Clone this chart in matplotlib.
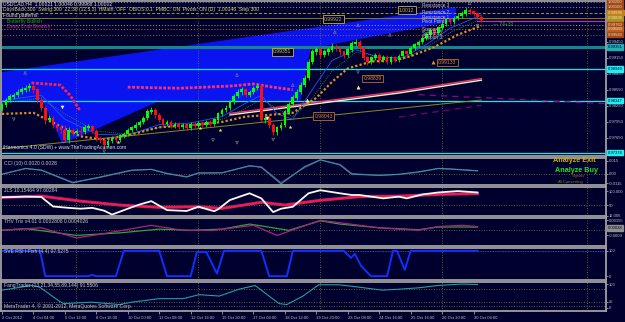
import matplotlib
matplotlib.use("Agg")
import matplotlib.pyplot as plt

plt.rcParams['font.family'] = ['Liberation Sans', 'DejaVu Sans']

NAVY = '#00002e'
GRID = '#7a7a30'
GRAY = '#a0a0a0'
FS = 3.6
FSR = 3.0

# ---- USDCAD H4 candles
opens = [0.9820, 0.9827, 0.9836, 0.9842, 0.9845, 0.9851, 0.9855, 0.9858, 0.9862, 0.9855,
         0.9836, 0.9821, 0.9799, 0.9802, 0.9789, 0.9784, 0.9780, 0.9761, 0.9780, 0.9774,
         0.9778, 0.9776, 0.9784, 0.9786, 0.9778, 0.9765, 0.9761, 0.9752, 0.9759, 0.9765,
         0.9761, 0.9769, 0.9772, 0.9780, 0.9784, 0.9789, 0.9795, 0.9802, 0.9814, 0.9817,
         0.9808, 0.9799, 0.9791, 0.9795, 0.9787, 0.9791, 0.9786, 0.9789, 0.9784, 0.9791,
         0.9787, 0.9793, 0.9789, 0.9795, 0.9791, 0.9799, 0.9810, 0.9817, 0.9821, 0.9832,
         0.9843, 0.9851, 0.9855, 0.9845, 0.9851, 0.9858, 0.9862, 0.9799, 0.9802, 0.9789,
         0.9776, 0.9784, 0.9789, 0.9814, 0.9828, 0.9840, 0.9851, 0.9864, 0.9877, 0.9907,
         0.9926, 0.9930, 0.9920, 0.9926, 0.9930, 0.9937, 0.9933, 0.9926, 0.9920, 0.9930,
         0.9941, 0.9944, 0.9933, 0.9915, 0.9907, 0.9915, 0.9920, 0.9911, 0.9916, 0.9907,
         0.9915, 0.9911, 0.9918, 0.9926, 0.9922, 0.9933, 0.9939, 0.9944, 0.9952, 0.9958,
         0.9967, 0.9961, 0.9971, 0.9978, 0.9986, 0.9982, 0.9989, 0.9993, 0.9997, 1.0004,
         1.0001, 0.9997, 0.9991]
closes = [0.9827, 0.9836, 0.9842, 0.9845, 0.9851, 0.9855, 0.9858, 0.9862, 0.9855, 0.9836,
          0.9821, 0.9799, 0.9802, 0.9789, 0.9784, 0.9780, 0.9761, 0.9780, 0.9774, 0.9778,
          0.9776, 0.9784, 0.9786, 0.9778, 0.9765, 0.9761, 0.9752, 0.9759, 0.9765, 0.9761,
          0.9769, 0.9772, 0.9780, 0.9784, 0.9789, 0.9795, 0.9802, 0.9814, 0.9817, 0.9808,
          0.9799, 0.9791, 0.9795, 0.9787, 0.9791, 0.9786, 0.9789, 0.9784, 0.9791, 0.9787,
          0.9793, 0.9789, 0.9795, 0.9791, 0.9799, 0.9810, 0.9817, 0.9821, 0.9832, 0.9843,
          0.9851, 0.9855, 0.9845, 0.9851, 0.9858, 0.9862, 0.9799, 0.9802, 0.9789, 0.9776,
          0.9784, 0.9789, 0.9814, 0.9828, 0.9840, 0.9851, 0.9864, 0.9877, 0.9907, 0.9926,
          0.9930, 0.9920, 0.9926, 0.9930, 0.9937, 0.9933, 0.9926, 0.9920, 0.9930, 0.9941,
          0.9944, 0.9933, 0.9915, 0.9907, 0.9915, 0.9920, 0.9911, 0.9916, 0.9907, 0.9915,
          0.9911, 0.9918, 0.9926, 0.9922, 0.9933, 0.9939, 0.9944, 0.9952, 0.9958, 0.9967,
          0.9961, 0.9971, 0.9978, 0.9986, 0.9982, 0.9989, 0.9993, 0.9997, 1.0004, 1.0001,
          0.9997, 0.9991, 0.9986]
highs = [0.9831, 0.9840, 0.9847, 0.9850, 0.9856, 0.9860, 0.9864, 0.9868, 0.9866, 0.9859,
         0.9840, 0.9825, 0.9808, 0.9806, 0.9793, 0.9789, 0.9790, 0.9785, 0.9784, 0.9782,
         0.9783, 0.9789, 0.9791, 0.9790, 0.9782, 0.9769, 0.9765, 0.9763, 0.9769, 0.9769,
         0.9773, 0.9777, 0.9784, 0.9788, 0.9794, 0.9799, 0.9807, 0.9820, 0.9822, 0.9821,
         0.9812, 0.9803, 0.9799, 0.9799, 0.9795, 0.9795, 0.9793, 0.9793, 0.9795, 0.9795,
         0.9797, 0.9797, 0.9799, 0.9799, 0.9803, 0.9814, 0.9821, 0.9826, 0.9836, 0.9848,
         0.9856, 0.9860, 0.9859, 0.9855, 0.9862, 0.9868, 0.9866, 0.9808, 0.9806, 0.9793,
         0.9788, 0.9794, 0.9818, 0.9833, 0.9845, 0.9856, 0.9869, 0.9882, 0.9912, 0.9931,
         0.9936, 0.9935, 0.9931, 0.9935, 0.9942, 0.9941, 0.9937, 0.9930, 0.9934, 0.9946,
         0.9950, 0.9948, 0.9937, 0.9919, 0.9919, 0.9924, 0.9924, 0.9920, 0.9920, 0.9919,
         0.9919, 0.9922, 0.9930, 0.9930, 0.9937, 0.9943, 0.9948, 0.9956, 0.9963, 0.9971,
         0.9971, 0.9975, 0.9982, 0.9990, 0.9990, 0.9993, 0.9998, 1.0002, 1.0009, 1.0008,
         1.0005, 1.0001, 0.9995]
lows = [0.9815, 0.9823, 0.9832, 0.9838, 0.9841, 0.9847, 0.9851, 0.9853, 0.9850, 0.9830,
        0.9815, 0.9792, 0.9794, 0.9783, 0.9778, 0.9775, 0.9757, 0.9756, 0.9769, 0.9770,
        0.9771, 0.9772, 0.9780, 0.9774, 0.9760, 0.9756, 0.9747, 0.9748, 0.9755, 0.9757,
        0.9757, 0.9765, 0.9768, 0.9776, 0.9780, 0.9785, 0.9791, 0.9798, 0.9809, 0.9803,
        0.9795, 0.9787, 0.9787, 0.9783, 0.9783, 0.9782, 0.9782, 0.9780, 0.9780, 0.9783,
        0.9783, 0.9785, 0.9785, 0.9787, 0.9787, 0.9795, 0.9806, 0.9813, 0.9817, 0.9828,
        0.9839, 0.9846, 0.9841, 0.9841, 0.9847, 0.9854, 0.9794, 0.9793, 0.9784, 0.9770,
        0.9771, 0.9779, 0.9785, 0.9810, 0.9824, 0.9836, 0.9847, 0.9860, 0.9873, 0.9903,
        0.9921, 0.9915, 0.9916, 0.9921, 0.9926, 0.9928, 0.9921, 0.9915, 0.9916, 0.9926,
        0.9937, 0.9928, 0.9910, 0.9902, 0.9903, 0.9911, 0.9906, 0.9907, 0.9903, 0.9903,
        0.9907, 0.9907, 0.9914, 0.9918, 0.9918, 0.9929, 0.9935, 0.9940, 0.9948, 0.9954,
        0.9957, 0.9957, 0.9967, 0.9974, 0.9978, 0.9978, 0.9985, 0.9989, 0.9993, 0.9997,
        0.9993, 0.9987, 0.9982]

date_labels = ['2 Oct 2012', '4 Oct 04:00', '5 Oct 12:00', '8 Oct 16:00', '10 Oct 00:00',
               '11 Oct 08:00', '12 Oct 16:00', '15 Oct 20:00', '17 Oct 04:00', '18 Oct 12:00',
               '19 Oct 20:00', '23 Oct 08:00', '24 Oct 16:00', '25 Oct 16:00', '26 Oct 20:00',
               '30 Oct 04:00']
label_bars = [0, 8, 16, 24, 32, 40, 48, 56, 64, 72, 80, 88, 96, 104, 112, 120]
sep_bars = [18.8, 49.9, 80.9, 112.0, 148.8]

# ---- main chart levels
price_ticks = [0.9765, 0.9795, 0.9825, 0.9855, 0.9885, 0.9915, 0.9945]
teal_level = 0.99351
cyan_levels = [0.98940, 0.98347, 0.97374]
pivot_levels = [1.0020, 1.0010, 0.9999, 0.9989, 0.9976, 0.9968, 0.9958]
pivot_colors = ['#9a9a9a', '#9a9a9a', '#9a9a30', '#8a7a10', '#9a9a9a', '#d07020', '#b06020']
pivot_styles = [(0, (1, 2)), (0, (1, 2)), (0, (3, 2)), '-', (0, (1, 2)), (0, (1, 2)), (0, (1, 2))]
magenta_level = 0.9984
pivot_names = ['Resistance 3', 'Resistance 2', 'Resistance 1', 'Pivot Point', 'Support 1', 'Support 2', 'Support 3']
pivot_name_p = [1.0013, 0.9999, 0.9991, 0.9983, 0.9968, 0.9961, 0.9953]

# harmonic pattern fill (bar, price)
blue_x = [-0.5, 115.3, 115.3, 78.4, 75.8, 40.2, 15.5, 10.4, -0.5]
blue_p = [0.98865, 1.0008, 0.99856, 0.99332, 0.98360, 0.98360, 0.97556, 0.98360, 0.98360]

# pattern legs (thick red dotted)
leg1_x = [7.5, 14.8, 17.3, 19.8]
leg1_p = [0.9868, 0.9864, 0.9845, 0.9817]
leg2_x = [32, 45, 58, 64, 69, 74]
leg2_p = [0.9860, 0.9858, 0.9862, 0.9866, 0.9860, 0.9855]

# trend lines (bar, price)
white_x = [58, 101, 122]
white_p = [0.9808, 0.9849, 0.9873]
pink_x = [58, 101, 122]
pink_p = [0.9811, 0.9852, 0.9876]
olive_x = [0, 122]
olive_p = [0.9745, 0.9836]
purple_x = [106, 154]
purple_p = [0.9846, 0.9829]
purple2_x = [101, 122]
purple2_p = [0.9804, 0.9826]

# moving averages (bar, price)
ma_x = [0, 8, 14, 20, 26, 32, 40, 50, 56, 62, 68, 74, 80, 84, 88, 94, 100, 104, 110, 116, 122]
ma_p = [0.9810, 0.9812, 0.9790, 0.9768, 0.9762, 0.9770, 0.9785, 0.9790, 0.9795, 0.9805, 0.9808,
        0.9812, 0.9840, 0.9870, 0.9895, 0.9908, 0.9910, 0.9918, 0.9935, 0.9958, 0.9975]
ma2_x = [0, 10, 16, 24, 32, 40, 48, 56, 62, 66, 70, 74, 78, 84, 90, 96, 102, 108, 114, 122]
blue_ma = [0.9835, 0.9845, 0.9800, 0.9772, 0.9770, 0.9790, 0.9793, 0.9805, 0.9830, 0.9845, 0.9810,
           0.9800, 0.9845, 0.9910, 0.9930, 0.9915, 0.9915, 0.9940, 0.9970, 0.9995]
green_ma = [0.9830, 0.9840, 0.9810, 0.9778, 0.9772, 0.9785, 0.9790, 0.9800, 0.9820, 0.9838, 0.9820,
            0.9805, 0.9830, 0.9890, 0.9925, 0.9918, 0.9912, 0.9935, 0.9962, 0.9988]

# signal marks (bar, price)
star_x = [29.5, 50.4, 55.5, 73.3]
star_p = [0.9758, 0.9784, 0.9780, 0.9786]
down_x = [15.3, 67.4]
down_p = [0.9823, 0.9802]
up_x = [77.6, 90.6, 109.7]
up_p = [0.9836, 0.9860, 0.9907]
frac_hi_x = [5.9, 59.8, 74, 84.7, 90.6, 98.7, 119]
frac_hi_p = [0.9887, 0.9883, 0.9864, 0.9963, 0.9976, 0.9958, 1.0017]
frac_lo_x = [3, 26, 53.7, 59.8, 69, 90.6, 121]
frac_lo_p = [0.9800, 0.9740, 0.9761, 0.9756, 0.9762, 0.9888, 0.9975]

# ---- indicators
cci_x = [0, 6, 10, 18, 25, 33, 38, 42, 47, 50, 56, 63, 66, 71, 77, 81, 86, 89, 96, 101, 106, 111, 114, 121]
cci_main = [-0.0008, 0.0061, 0.0040, -0.0109, -0.0040, 0.0040, 0.0049, 0.0, -0.0040, 0.0008, 0.0008,
            0.0093, 0.0073, -0.0121, 0.0081, 0.0162, 0.0101, -0.0008, -0.0020, -0.0008, 0.0020,
            0.0061, 0.0053, 0.0032]
cci_sig = [-0.0006, 0.0058, 0.0042, -0.0100, -0.0045, 0.0036, 0.0050, 0.0004, -0.0036, 0.0004, 0.0010,
           0.0088, 0.0080, -0.0105, 0.0070, 0.0158, 0.0110, 0.0002, -0.0022, -0.0010, 0.0016,
           0.0058, 0.0056, 0.0034]

jls_white_x = [0, 6, 10, 13, 17, 20, 23, 26, 28, 32, 35, 38, 42, 47, 50, 54, 55, 58, 63, 66,
               69, 71, 74, 78, 81, 86, 89, 91, 97, 101, 103, 107, 111, 116, 121]
jls_white = [78, 80, 79, 45, 40, 37, 40, 30, 16, 37, 52, 64, 32, 29, 44, 28, 35, 68, 92, 74,
             25, 37, 44, 92, 103, 92, 86, 86, 74, 80, 74, 88, 95, 100, 95]
jls_red_x = [0, 10, 20, 30, 40, 50, 56, 66, 72, 81, 91, 101, 111, 121]
jls_red = [77, 82, 64, 50, 42, 44, 38, 60, 50, 67, 80, 82, 88, 91]

thv_a_x = [0, 10, 19, 25, 38, 46, 54, 64, 70, 81, 86, 96, 101, 106, 111, 117, 121]
thv_a = [-0.0001, 0.00032, -0.00138, -0.00076, 0.00074, -0.0001, -0.0001, 0.00074, -0.00096,
         0.00159, 0.00117, 0.00032, 0.0001, -0.0001, 0.00053, 0.00074, 0.00053]
thv_b_x = [0, 6, 19, 30, 40, 48, 56, 63, 73, 81, 86, 96, 106, 111, 121]
thv_b = [-0.0001, 0.00019, -0.00096, -0.00053, 0.0001, -0.0001, 0.0001, 0.00095, -0.0001,
         0.00150, 0.00095, 0.00032, 0.0, 0.00045, 0.00045]

sve_x = [0, 9.7, 11, 22, 23, 24, 29, 31, 40, 42, 48, 49.6, 52, 54.7, 56.5, 66, 68, 72.5, 74, 87,
         88.8, 89.8, 91.4, 93.9, 98, 99.5, 100.5, 102.5, 104, 121]
sve = [100, 100, 0, 0, 5, 0, 0, 100, 100, 0, 0, 95, 95, 10, 100, 100, 0, 0, 100, 100,
       72, 88, 40, 0, 0, 100, 100, 25, 100, 100]

fang_x = [0, 7.6, 9.6, 14.7, 15.7, 22.8, 29.9, 33, 40, 46.1, 50.2, 55.3, 60.3, 64.4, 70.5,
          72.5, 76.6, 80.6, 85.7, 90.8, 96.8, 100.9, 106, 111, 117, 121]
fang = [74, 94, 87, 26, 17, 23, 13, 23, 38, 38, 55, 49, 78, 94, 17, 13, 49, 97, 97, 87,
        74, 78, 84, 94, 100, 98]

W, H = 625, 322
fig = plt.figure(figsize=(6.25, 3.22), dpi=100)
fig.patch.set_facecolor(NAVY)


def panel(y0, y1):
    ax = fig.add_axes([1 / W, 1 - y1 / H, 605 / W, (y1 - y0) / H])
    ax.set_facecolor(NAVY)
    for s in ax.spines.values():
        s.set_color(GRAY)
        s.set_linewidth(1.3)
    ax.set_xlim(-0.25, 153.7)
    ax.yaxis.tick_right()
    ax.tick_params(axis='y', colors='#c0c0c0', labelsize=FSR, length=1.5, width=0.5, pad=0.8)
    ax.tick_params(axis='x', bottom=False, labelbottom=False)
    for b in sep_bars:
        ax.axvline(b, color=GRID, lw=0.6, ls=(0, (1, 2)))
    return ax


def txt(x, y, s, color, size=FS, **kw):
    # x, y in pixels of the figure
    fig.text(x / W, 1 - y / H, s, color=color, fontsize=size, va='center', **kw)


def rlabel(ax, lvl, s, fc, tc):
    ax.text(1.003, lvl, s, transform=ax.get_yaxis_transform(), color=tc,
            fontsize=FSR, va='center', ha='left', clip_on=False,
            bbox=dict(boxstyle='square,pad=0.15', fc=fc, ec=fc))


# ---------------- main chart
ax = panel(1, 156)
ax.set_ylim(0.97313, 1.00211)
ax.set_yticks(price_ticks)
ax.set_yticklabels(['%.5f' % p for p in price_ticks])

ax.fill(blue_x, blue_p, color='#0a14f0', zorder=1)
for lvl, c, st in zip(pivot_levels, pivot_colors, pivot_styles):
    ax.axhline(lvl, color=c, lw=0.7, ls=st, zorder=2)
ax.plot([121, 153.7], [magenta_level] * 2, color='#d020c0', lw=0.8, zorder=2)
ax.axhline(teal_level, color='#158585', lw=2.2, zorder=2)
for lvl in cyan_levels:
    ax.axhline(lvl, color='#10e8f0', lw=0.9, zorder=2)

ax.plot(olive_x, olive_p, color='#8a8a20', lw=0.7, zorder=3)
ax.plot(leg1_x, leg1_p, color='#ff2050', lw=2.0, ls=(0, (1, 0.6)), zorder=3)
ax.plot(leg2_x, leg2_p, color='#ff3070', lw=2.0, ls=(0, (1, 0.6)), zorder=3)
ax.plot(pink_x, pink_p, color='#ff3070', lw=1.0, zorder=3)
ax.plot(white_x, white_p, color='#f0f0d0', lw=1.0, zorder=3)
ax.plot(purple_x, purple_p, color='#900090', lw=0.9, ls=(0, (5, 4)), zorder=3)
ax.plot(purple2_x, purple2_p, color='#800060', lw=0.9, ls=(0, (5, 4)), zorder=3)
ax.plot(ma2_x, blue_ma, color='#3050ff', lw=0.6, zorder=3)
ax.plot(ma2_x, green_ma, color='#20a040', lw=0.6, ls=(0, (1, 1.5)), zorder=3)
ax.plot(ma_x, ma_p, color='#e0901a', lw=1.6, ls=(0, (1, 1)), zorder=4)

bars = range(len(closes))
up = [c >= o for o, c in zip(opens, closes)]
cols = ['#00ff00' if u else '#ff1010' for u in up]
ax.vlines(bars, lows, highs, colors=cols, lw=0.6, zorder=5)
ax.bar(bars, [abs(c - o) + 0.00008 for o, c in zip(opens, closes)],
       bottom=[min(o, c) for o, c in zip(opens, closes)], width=0.7, color=cols, zorder=6)

ax.scatter(star_x, star_p, marker='*', s=9, color='#f0e060', lw=0, zorder=7)
ax.scatter(down_x, down_p, marker='v', s=7, color='#f0f0f0', lw=0, zorder=7)
ax.scatter(up_x[:2], up_p[:2], marker='^', s=8, color='#f8f090', lw=0, zorder=7)
ax.scatter(up_x[2:], up_p[2:], marker='^', s=8, color='#f09030', lw=0, zorder=7)
ax.scatter(frac_hi_x, frac_hi_p, marker='^', s=4, facecolor='none', edgecolor='#8a8a8a', lw=0.4, zorder=7)
ax.scatter(frac_lo_x, frac_lo_p, marker='v', s=4, facecolor='none', edgecolor='#8a8a8a', lw=0.4, zorder=7)

for name, p in zip(pivot_names, pivot_name_p):
    ax.text(107, p, name, color='#c8c8c8', fontsize=FS - 0.3, va='center', zorder=7)


def boxed(x, p, s, tc, ec):
    ax.text(x, p, s, color=tc, fontsize=FS, va='center', ha='left', zorder=8,
            bbox=dict(boxstyle='square,pad=0.25', fc=NAVY, ec=ec, lw=0.6))


boxed(101, 1.0004, '1.0012', '#c8b040', '#c8b040')
boxed(69, 0.9926, '0.99351', '#d0c060', '#c8b040')
boxed(82, 0.9987, '0.99922', '#c8b040', '#c8b040')
boxed(92, 0.9876, '0.98839', '#d08030', '#c07020')
boxed(111, 0.9906, '0.99133', '#d08030', '#c07020')
boxed(79.5, 0.9806, '0.98043', '#d08030', '#c07020')
ax.text(125, 0.9977, '\u2014 74+32', color='#40a040', fontsize=FS, va='center')

# right axis coloured labels
rlabel(ax, teal_level, '%.5f' % teal_level, '#20b0b0', NAVY)
for lvl in cyan_levels:
    rlabel(ax, lvl, '%.5f' % lvl, '#20f0f0', NAVY)
for lvl, c in zip(pivot_levels, ['#a04818', '#a04818', '#c08020', '#b09020', '#a04818', '#c06020', '#a04818']):
    rlabel(ax, lvl, '%.5f' % lvl, c, '#f0e0c0')

txt(3, 4, 'USDCAD,H4  1.00021 1.00046 0.99968 1.00002', '#e0e0e0')
txt(3, 10, 'DaysBack:300  Swing:300  ZZ:30 (12,5,3)  HMath: OFF  OB/OS:0.1  PMBC: ON  Pivots: ON (D)  1.00146  Step 300', '#d8d870')
txt(3, 15.5, 'Found patterns:', '#e0e0e0')
txt(7, 21, 'Butterfly Bullish', '#10b010')
txt(7, 26.5, 'Deep Crab Bearish', '#d02090')
txt(3, 147, 'iHarmonics 4.0 (SDW) + www.TheTradingAcumen.com', '#e0e0e0')

# ---------------- CCI
ax = panel(158, 185)
ax.set_ylim(-0.0134, 0.0183)
ax.set_yticks([0.015, 0.0, -0.0115])
ax.set_yticklabels(['0.015', '0.00', '-0.0115'])
ax.axhline(0, color=GRID, lw=0.6, ls=(0, (1, 2)))
ax.plot(cci_x, cci_sig, color='#a02080', lw=0.8)
ax.plot(cci_x, cci_main, color='#20a0a0', lw=0.8)
txt(4, 163, 'CCI (10) 0.0020 0.0028', '#c8c8c8')
txt(553, 161, 'Analyze Exit', '#d0b000', size=5.2, weight='bold')
txt(555, 170, 'Analyze Buy', '#20e020', size=5.2, weight='bold')
txt(572, 176.5, 'Signals', '#a06020', size=3)
txt(558, 182, 'All-Converting', '#808000', size=3)

# ---------------- JLS
ax = panel(187, 216)
ax.set_ylim(11, 114.5)
ax.set_yticks([100, 50, 12.006])
ax.set_yticklabels(['100.000', '50', '12.006'])
ax.axhline(50, color=GRID, lw=0.6, ls=(0, (1, 2)))
ax.plot(jls_red_x, jls_red, color='#c01890', lw=2.2)
ax.plot(jls_red_x, jls_red, color='#ff2020', lw=1.0)
ax.plot(jls_white_x, jls_white, color='#f8f8f0', lw=1.3)
txt(4, 190.5, 'JLS 10.15464 97.60284', '#c8c8c8')

# ---------------- THV Trix
ax = panel(218, 246)
ax.set_ylim(-0.00274, 0.00197)
ax.set_yticks([0.00155, -0.0009])
ax.set_yticklabels(['0.00155', '-0.0009'])
ax.axhline(0.0, color=GRID, lw=0.6, ls=(0, (1, 2)))
ax.plot(thv_b_x, thv_b, color='#30a040', lw=0.9)
ax.plot(thv_a_x, thv_a, color='#b0207a', lw=0.9)
rlabel(ax, 0.00028, '0.00028', '#909090', NAVY)
txt(4, 221.5, 'THV Trix v4.01 0.0002808 0.0004026', '#c8c8c8')

# ---------------- SVE RSI I-Fish
ax = panel(248, 280)
ax.set_ylim(-15, 111)
ax.set_yticks([100, 0])
ax.set_yticklabels(['100', '0'])
ax.axhline(100, color='#4060ff', lw=0.6, ls=(0, (1, 1)))
ax.plot(sve_x, sve, color='#1030ff', lw=1.4)
txt(4, 252, 'SVE RSI I-Fish (4,4) 97.5275', '#c8c8c8')

# ---------------- FangTrader
ax = panel(282, 311)
ax.set_ylim(-14.4, 108.7)
ax.set_yticks([100, 25, 0])
ax.set_yticklabels(['100', '25', '0'])
for lvl in [80, 25, 5]:
    ax.axhline(lvl, color=GRID, lw=0.6, ls=(0, (1, 2)))
ax.plot(fang_x, fang, color='#20a0a0', lw=0.8)
txt(4, 285.5, 'FangTrader (13,21,34,55,89,144) 91.5506', '#c8c8c8')
txt(4, 306, 'MetaTrader 4, \u00a9 2001-2012, MetaQuotes Software Corp.', '#c8c8c8')
ax.set_xticks(label_bars)
ax.set_xticklabels(date_labels, ha='left')
ax.tick_params(axis='x', bottom=True, labelbottom=True, colors='#c0c0c0', labelsize=FSR,
               length=2, width=0.5, pad=1.5)

fig.savefig('out.png', dpi=100, facecolor=NAVY)
